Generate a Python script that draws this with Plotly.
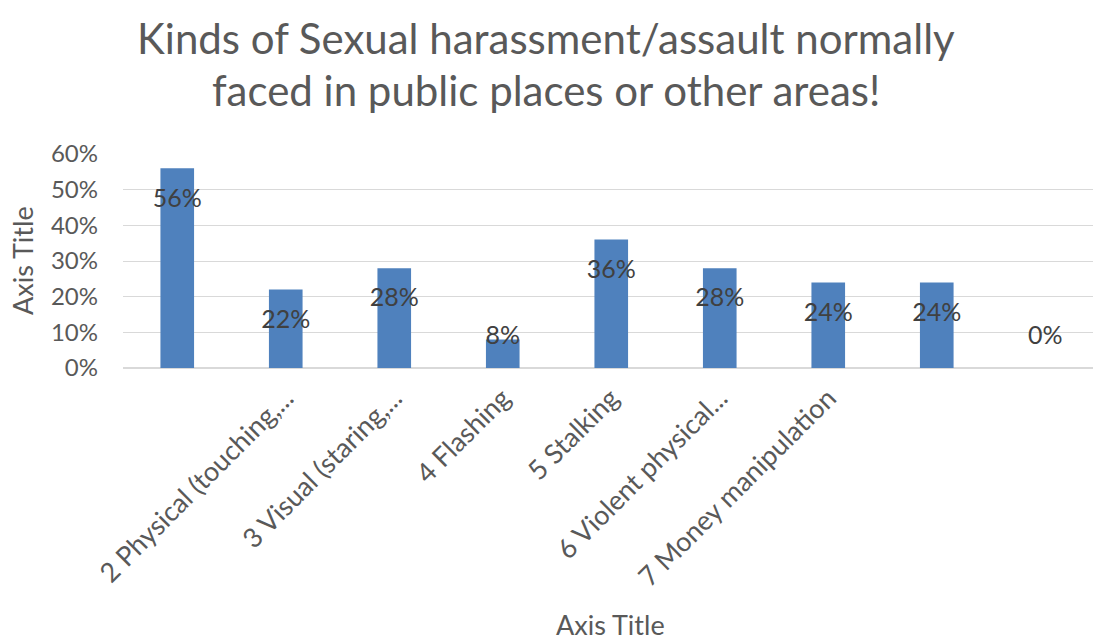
import plotly.graph_objects as go

categories = ["", "2 Physical (touching,...", "3 Visual (staring,...", "4 Flashing",
              "5 Stalking", "6 Violent physical...", "7 Money manipulation", "", ""]
values = [0.56, 0.22, 0.28, 0.08, 0.36, 0.28, 0.24, 0.24, 0.0]
y_ticks = [0, 0.1, 0.2, 0.3, 0.4, 0.5, 0.6]
y_tick_labels = ["0%", "10%", "20%", "30%", "40%", "50%", "60%"]
title_lines = ["Kinds of Sexual harassment/assault normally", "faced in public places or other areas!"]
x_title = "Axis Title"
y_title = "Axis Title"

FONT = "Lato, Carlito, Calibri, sans-serif"
GRAY = "#595959"

W, H = 1093, 642
ML, MR, MT, MB = 123, 0, 154, 274
plot_h = H - MT - MB
plot_w = W - ML - MR


def py(p):  # pixel row -> paper y
    return (H - MB - p) / plot_h


def px(p):  # pixel column -> paper x
    return (p - ML) / plot_w


xs = list(range(len(values)))
label_y = [max(v - 0.09, 0.084) for v in values]
label_text = [f"{round(v*100)}%" for v in values]

fig = go.Figure()
fig.add_trace(go.Bar(x=xs, y=values, width=0.31, marker=dict(color="#4f81bd", line=dict(width=0)),
                     hoverinfo="skip"))
fig.add_trace(go.Scatter(x=xs, y=label_y, mode="text", text=label_text,
                         textfont=dict(family=FONT, size=25, color="#404040"),
                         textposition="middle center", hoverinfo="skip"))

annotations = [
    dict(text=title_lines[0], x=px(546), y=py(38), xref="paper", yref="paper",
         xanchor="center", yanchor="middle", showarrow=False,
         font=dict(family=FONT, size=42, color=GRAY)),
    dict(text=title_lines[1], x=px(546), y=py(90), xref="paper", yref="paper",
         xanchor="center", yanchor="middle", showarrow=False,
         font=dict(family=FONT, size=42, color=GRAY)),
    dict(text=x_title, x=px(610), y=py(624), xref="paper", yref="paper",
         xanchor="center", yanchor="middle", showarrow=False,
         font=dict(family=FONT, size=27, color=GRAY)),
    dict(text=y_title, x=px(22), y=py(261), xref="paper", yref="paper",
         xanchor="center", yanchor="middle", showarrow=False, textangle=-90,
         font=dict(family=FONT, size=27, color=GRAY)),
]

fig.update_layout(
    width=W, height=H,
    paper_bgcolor="white", plot_bgcolor="white",
    showlegend=False,
    margin=dict(l=ML, r=MR, t=MT, b=MB),
    font=dict(family=FONT, color=GRAY),
    annotations=annotations,
)
fig.update_xaxes(range=[-0.5, 8.44], tickmode="array", tickvals=xs, ticktext=categories,
                 tickangle=-45, tickfont=dict(family=FONT, size=27, color=GRAY),
                 showgrid=False, zeroline=False, showline=False, ticks="", ticklabelstandoff=8,
                 automargin=False)
fig.update_yaxes(range=[0, 0.6], tickmode="array", tickvals=y_ticks, ticktext=y_tick_labels,
                 tickfont=dict(family=FONT, size=24, color=GRAY),
                 showgrid=True, gridcolor="#d9d9d9", gridwidth=1, zeroline=True, zerolinecolor="#d9d9d9",
                 showline=False, ticks="", ticklabelstandoff=24, automargin=False)

fig.write_html("out.html")
